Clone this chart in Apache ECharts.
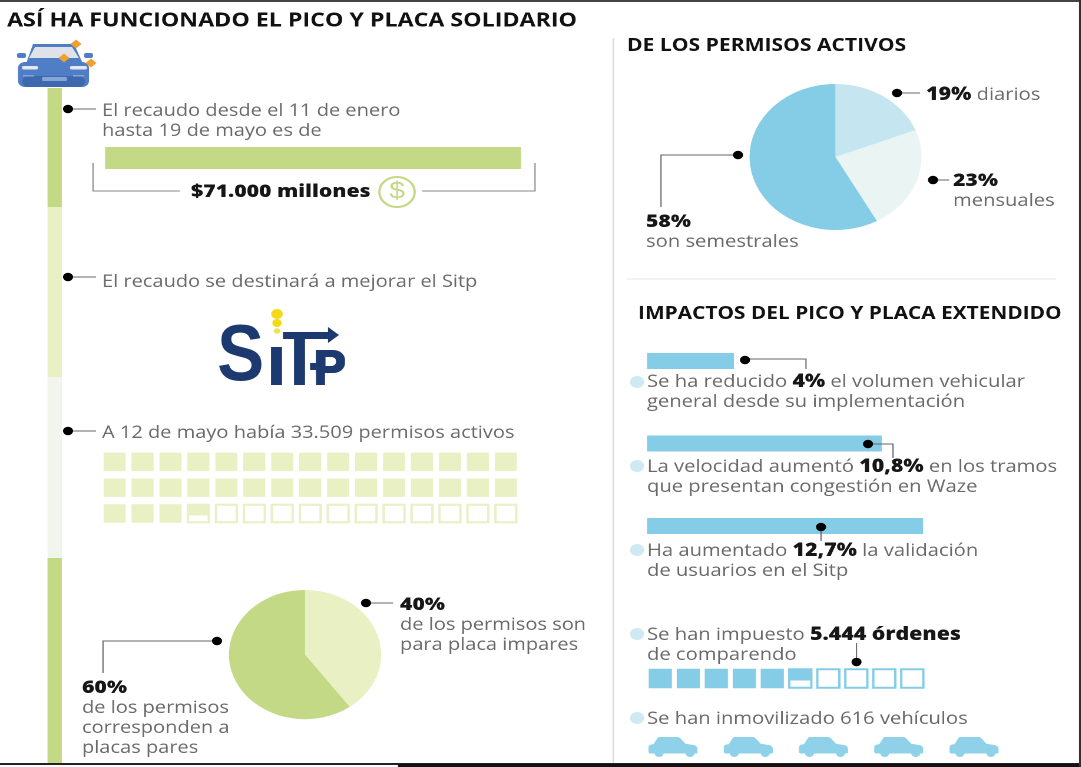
<!DOCTYPE html>
<html><head><meta charset="utf-8">
<script src="https://cdn.jsdelivr.net/npm/echarts@6/dist/echarts.min.js"></script>
<style>html,body{margin:0;padding:0;background:#fff;overflow:hidden}
#c{height:767px;transform-origin:0 0;}</style></head><body><div id="c"></div>
<script>
// ---- data
const recaudoLabel = ['Recaudo'];
const recaudoValues = [71000];
const placaNames = ['Impares', 'Pares'];
const placaValues = [40, 60];
const tipoNames = ['Diarios', 'Mensuales', 'Semestrales'];
const tipoValues = [19, 23, 58];
const impactoNames = ['Volumen vehicular', 'Velocidad', 'Validación Sitp'];
const impactoValues = [4, 10.8, 12.7];
const permisosActivos = 33509;
const permisosPorCuadro = 1000;
const permisosCuadros = 45;
const ordenesComparendo = 5444;
const ordenesPorCuadro = 1000;
const ordenesCuadros = 10;
const vehiculosIconos = [0, 1, 2, 3, 4];

// The reference picture is stretched horizontally; reproduce that on the whole stage.
const K = 1.178;
const W = 1081 / K;
const X = v => v / K;
const el = document.getElementById('c');
el.style.width = W + 'px';
el.style.transform = 'scaleX(' + K + ')';

const GREEN = '#c3d985', LGREEN = '#e9f0c3', PALE = '#f0f6ee';
const BLUE = '#85cde6', LBLUE = '#c5e5f1', PBLUE = '#e9f4f3', BULLET = '#cfe9f3';
const GREY = '#6a6a6a', DARK = '#161616', LINE = '#666', FONT = '"Open Sans",sans-serif';
let FS = 17;

const g = [];
function rect(x0, y0, x1, y1, fill, z, r) {
  g.push({type:'rect', z:z||1, shape:{x:X(x0), y:y0, width:X(x1)-X(x0), height:y1-y0, r:r||0}, style:{fill}});
}
function poly(pts, fill, z) {
  g.push({type:'polygon', z:z||2, shape:{points:pts.map(p=>[X(p[0]),p[1]])}, style:{fill}});
}
function dot(x, y, r, fill) {
  g.push({type:'circle', z:5, shape:{cx:X(x), cy:y, r:r||4.3}, style:{fill:fill||'#000'}});
}
function line(pts, color) {
  g.push({type:'polyline', z:4, shape:{points:pts.map(p=>[X(p[0]),p[1]])}, style:{stroke:color||LINE, lineWidth:1, fill:null}});
}
function txt(x, y, s, opt) {
  opt = opt || {};
  g.push({type:'text', z:opt.z||6, x:X(x), y:y+1, scaleX:opt.sx||1, style:{text:s, font:(opt.w||400)+' '+(opt.fs||FS)+'px '+(opt.ff||FONT),
    fill:opt.c||GREY, textVerticalAlign:'middle', align:opt.align||'left'}});
}
function rich(x, y, s) {
  g.push({type:'text', z:6, x:X(x), y:y+1, style:{text:s, verticalAlign:'middle', textVerticalAlign:'middle',
    rich:{n:{font:'400 '+FS+'px '+FONT, fill:GREY}, b:{font:'800 '+(FS+1)+'px '+FONT, fill:DARK}}}});
}
function bold(x, y, s) { txt(x, y, s, {w:800, c:DARK, fs:18}); }

// frame
rect(0,0,1081,2,'#444',20);
rect(0,763,1081,765,'#222',20);
rect(398,764,1081,767,'#111',20);
rect(1079,0,1081,767,'#333',20);

// titles
txt(7, 20, 'ASÍ HA FUNCIONADO EL PICO Y PLACA SOLIDARIO', {w:700, c:'#111', fs:19.7});
txt(627, 45, 'DE LOS PERMISOS ACTIVOS', {w:700, c:'#111', fs:17.9});
txt(638, 313, 'IMPACTOS DEL PICO Y PLACA EXTENDIDO', {w:700, c:'#111', fs:17.7});

// timeline
rect(47.5,88,61.8,207,GREEN);
rect(47.5,207,61.8,377,LGREEN);
rect(47.5,377,61.8,558,PALE);
rect(47.5,558,61.8,763,GREEN);

// car icon
const CAR = '#4f7ec6';
rect(18,62,89,87,CAR,2,6);
rect(22,76,85,87,'#3f69ae',2,6);
poly([[26,64],[33,44],[74,44],[83,64]],CAR);
poly([[29,58],[35,47],[72,47],[79,58]],'#dfe3e8',3);
rect(17,53,26,58,CAR,2,2); rect(84,53,93,58,CAR,2,2);
rect(22,66,38,69.5,'#e4e8ee',3,1.5); rect(70,66,87,69.5,'#e4e8ee',3,1.5);
rect(42,77,67,81,'#86a6d8',3,1); rect(23,75,34,76.5,'#86a6d8',3); rect(73,75,84,76.5,'#86a6d8',3);
[[76,44],[64,58],[91,63]].forEach(p=>poly([[p[0]-5.5,p[1]],[p[0],p[1]-4.5],[p[0]+5.5,p[1]],[p[0],p[1]+4.5]],'#f0a030',7));

// left column texts
dot(68,109); line([[68,109],[96,109]]);
txt(102,110,'El recaudo desde el 11 de enero');
txt(102,130,'hasta 19 de mayo es de');
line([[93,163],[93,191],[180,191]],'#888');
line([[422,191],[535,191],[535,163]],'#888');
bold(191,191,'$71.000 millones');
g.push({type:'circle', z:3, shape:{cx:X(397), cy:192, r:15}, style:{fill:'#fff', stroke:GREEN, lineWidth:2}});
txt(397,191,'$',{c:GREEN, fs:24, align:'center', ff:'"Liberation Sans",sans-serif'});

dot(68,277); line([[68,277],[96,277]]);
txt(102,281,'El recaudo se destinará a mejorar el Sitp');

// Sitp logo
const NAVY = '#1d3a70', LOGO = '"Liberation Sans",sans-serif';
txt(217,357,'S',{w:700, c:NAVY, fs:80, ff:LOGO, sx:0.75});
rect(271,347,282,385,NAVY,6);
rect(294,337,305,385,NAVY,6);
poly([[283,332],[328,332],[328,327],[339,335],[328,343],[328,339],[283,339]],NAVY,6);
rect(316,350,325,385,NAVY,6);
rect(316,350,345,373,NAVY,6,[0,10,10,0]);
rect(325.5,357,336,366,'#fff',7,[0,4,4,0]);
rect(310,363,316,370,NAVY,6);
dot(277,314,5,'#f4d916'); dot(277,323,4,'#f4d916'); dot(277,331,2.8,'#f2e04a');

dot(68,431); line([[68,431],[96,431]]);
txt(102,432,'A 12 de mayo había 33.509 permisos activos');

// placas pie labels
dot(366,603); line([[366,603],[393,603]]);
bold(400,604,'40%');
txt(400,624,'de los permisos son');
txt(400,644,'para placa impares');
dot(217,641); line([[217,641],[103,641],[103,673]]);
bold(82,687,'60%');
txt(82,707,'de los permisos');
txt(82,727,'corresponden a');
txt(82,747,'placas pares');

// right column
FS = 17.15;
rect(612.5,38,614,763,'#dcdcdc');
rect(627,278.5,1056,279.5,'#e6e6e6');
dot(897,93); line([[897,93],[920,93]]);
rich(926,94,'{b|19%}{n| diarios}');
dot(933,180); line([[933,180],[949,180]]);
bold(953,180,'23%'); txt(953,200,'mensuales');
dot(738,155); line([[738,155],[661,155],[661,207]]);
bold(646,221,'58%'); txt(646,241,'son semestrales');

// impact annotations
const bullet = (y)=>g.push({type:'ellipse', z:3, shape:{cx:X(637), cy:y, rx:X(7), ry:6}, style:{fill:BULLET}});
dot(745,360); line([[745,359],[806,359],[806,369]]);
bullet(382); rich(647,381,'{n|Se ha reducido }{b|4%}{n| el volumen vehicular}'); txt(647,401,'general desde su implementación');
dot(868,444); line([[868,444],[893,444],[893,458]]);
bullet(466); rich(647,466,'{n|La velocidad aumentó }{b|10,8%}{n| en los tramos}'); txt(647,486,'que presentan congestión en Waze');
dot(821,527); line([[821,527],[821,541]]);
bullet(550); rich(647,550,'{n|Ha aumentado }{b|12,7%}{n| la validación}'); txt(647,570,'de usuarios en el Sitp');
bullet(634); rich(647,634,'{n|Se han impuesto }{b|5.444 órdenes}'); txt(647,654,'de comparendo');
dot(856.5,662); line([[856.5,643],[856.5,662]]);
bullet(718); txt(647,718,'Se han inmovilizado 616 vehículos');

// helpers for chart parts
const grids=[], xAxes=[], yAxes=[], series=[];
function addGrid(x0,y0,x1,y1,xa,ya){
  grids.push({left:X(x0), top:y0, width:X(x1)-X(x0), height:y1-y0, containLabel:false});
  xAxes.push(Object.assign({show:false, gridIndex:grids.length-1},xa));
  yAxes.push(Object.assign({show:false, gridIndex:grids.length-1},ya));
  return grids.length-1;
}
function cells(value, unit, total, cols){
  const out=[];
  for(let i=0;i<total;i++){
    const f=Math.max(0,Math.min(1,value/unit-i));
    out.push([i%cols, Math.floor(i/cols), f]);
  }
  return out;
}
function waffle(idx, data, color, wRatio, hRatio){
  series.push({type:'custom', name:'cuadros', xAxisIndex:idx, yAxisIndex:idx, silent:true, z:3,
    data, encode:{x:0,y:1},
    renderItem(params, api){
      const c=api.coord([api.value(0),api.value(1)]), s=api.size([1,1]);
      const w=s[0]*wRatio, h=s[1]*hRatio, x=c[0]-w/2, y=c[1]-h/2, f=api.value(2);
      const ch=[];
      if(f<1) ch.push({type:'rect', shape:{x:x+0.5,y:y+0.5,width:w-1,height:h-1}, style:{fill:'#fff',stroke:color,lineWidth:2}});
      if(f>0) ch.push({type:'rect', shape:{x,y,width:w,height:f>=1?h:h*0.6}, style:{fill:color}});
      return {type:'group', children:ch};
    }});
}

// recaudo bar
let i=addGrid(105,147,521,169,{type:'value',min:0,max:71000},{type:'category',data:recaudoLabel});
series.push({type:'bar', name:'Recaudo', xAxisIndex:i, yAxisIndex:i, data:recaudoValues, barWidth:22, itemStyle:{color:GREEN}, silent:true});

// impactos bars
i=addGrid(647,319.75,923,567.25,{type:'value',min:0,max:12.7},{type:'category',inverse:true,data:impactoNames});
series.push({type:'bar', name:'Impactos', xAxisIndex:i, yAxisIndex:i, data:impactoValues, barWidth:16, itemStyle:{color:BLUE}, silent:true});

// permit waffle: 15 x 3 cells
i=addGrid(103.6-3,452.7-3.75,516.8+3,522.7+3.75,{type:'value',min:-0.5,max:14.5},{type:'value',min:-0.5,max:2.5,inverse:true});
waffle(i, cells(permisosActivos,permisosPorCuadro,permisosCuadros,15), LGREEN, 22/27.93, 18.5/25.9);

// orders waffle: 10 cells
i=addGrid(646.3,667,926.3,690,{type:'value',min:-0.5,max:9.5},{type:'value',min:-0.5,max:0.5});
waffle(i, cells(ordenesComparendo,ordenesPorCuadro,ordenesCuadros,10), BLUE, 23.2/28, 19.5/23);

// car icons
const carPath='path://M0,10 C0,8 2,7 5,7 L9,1 C9.5,0.3 10,0 11,0 L29,0 C30,0 31,0.5 32,1.5 L37,6.5 L46,8 C48,8.5 49,10 49,12 L49,15 C49,16 48,16 46,16 C45,20.5 38,20.5 37,16 L15,16 C14,20.5 7,20.5 6,16 L2,16 C0.5,16 0,15 0,14 Z';
i=addGrid(635.4,737,1011.6,757,{type:'value',min:-0.5,max:4.5},{type:'value',min:0,max:1});
series.push({type:'scatter', name:'Vehículos', xAxisIndex:i, yAxisIndex:i, silent:true, symbol:carPath, symbolSize:[X(49),20],
  data:vehiculosIconos.map(v=>[v,0.5]), itemStyle:{color:'#8ed1e8',opacity:1}});

// pies
series.push({type:'pie', name:'Placas', center:[X(305),654.6], radius:[0,64.6], startAngle:90, clockwise:true, silent:true,
  label:{show:false}, labelLine:{show:false}, data:placaNames.map((n,k)=>({name:n,value:placaValues[k],itemStyle:{color:[LGREEN,GREEN][k]}}))});
series.push({type:'pie', name:'Permisos', center:[X(835.5),157], radius:[0,73], startAngle:90, clockwise:true, silent:true,
  label:{show:false}, labelLine:{show:false}, data:tipoNames.map((n,k)=>({name:n,value:tipoValues[k],itemStyle:{color:[LBLUE,PBLUE,BLUE][k]}}))});

const chart=echarts.init(el,null,{devicePixelRatio:2});
chart.setOption({animation:false, backgroundColor:'#fff', legend:{show:false}, tooltip:{show:false},
  grid:grids, xAxis:xAxes, yAxis:yAxes, series, graphic:{elements:g}});
</script></body></html>
